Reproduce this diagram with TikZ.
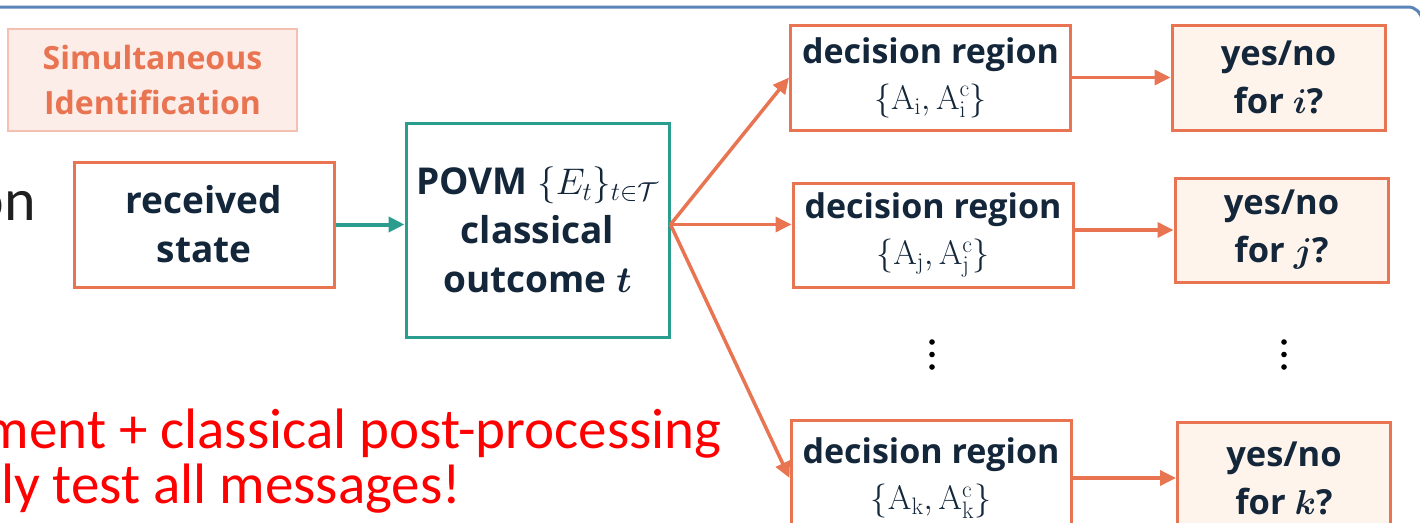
\RequirePackage{fix-cm}
\documentclass[tikz,border=0pt]{standalone}
\usepackage[no-math]{fontspec}
\usepackage{bm}
\newfontfamily\boxfont{Open Sans}
\newfontfamily\notefont{Carlito}
\usetikzlibrary{arrows.meta}
\definecolor{coral}{RGB}{233,116,82}
\definecolor{teal}{RGB}{42,157,143}
\definecolor{ink}{RGB}{19,38,58}
\definecolor{cream}{RGB}{254,244,236}
\definecolor{blush}{RGB}{253,237,232}
\definecolor{frameblue}{RGB}{91,132,185}
\tikzset{
  >={Triangle[length=16pt,width=15pt]},
  box/.style={draw=#1,line width=3pt,fill=white,inner sep=0pt,align=center,text=ink,
    font=\boxfont\bfseries\fontsize{37}{49}\selectfont},
  box/.default=coral,
  answer/.style={box,fill=cream,font=\boxfont\bfseries\fontsize{34.5}{48}\selectfont},
  region/.style={box,minimum width=280pt,font=\boxfont\bfseries\fontsize{34}{46}\selectfont},
  tagbox/.style={draw=coral!45,line width=2pt,fill=blush,text=coral,inner sep=0pt,align=center,
    font=\boxfont\bfseries\fontsize{32}{45}\selectfont},
  flow/.style={->,line width=3.5pt,draw=#1},
  flow/.default=coral,
  note/.style={inner sep=0pt,font=\notefont\fontsize{57}{60}\selectfont},
  frame/.style={draw=frameblue,line width=3pt,rounded corners=14pt},
}

\begin{document}
\begin{tikzpicture}[x=1pt,y=-1pt]
  \useasboundingbox (0,0) rectangle (1420,522);
  \draw[frame] (-5,7) -- (1422,7) -- (1422,560);
  % left part
  \node[tagbox,minimum width=289pt,minimum height=102pt] (simid) at (152.5,80) {Simultaneous\\Identification};
  \node[note,text=black!88,anchor=base east,font=\notefont\fontsize{60}{60}\selectfont] (on) at (36,220) {on};
  \node[box,minimum width=260pt,minimum height=125pt] (recv) at (204,224.5) {received\\state};
  \node[box=teal,minimum width=263pt,minimum height=214pt] (povm) at (537.5,230) {POVM $\{E_t\}_{t\in\mathcal{T}}$\\classical\\outcome $\bm{t}$};
  \coordinate (fork) at (recv.east -| povm.east);
  % decision regions
  \node[region,minimum height=105pt] (deci) at (930.5,77.5) {decision region\\$\{\mathrm{A}_\mathrm{i},\mathrm{A}_\mathrm{i}^\mathrm{c}\}$};
  \node[region,minimum height=104pt] (decj) at (933,235) {decision region\\$\{\mathrm{A}_\mathrm{j},\mathrm{A}_\mathrm{j}^\mathrm{c}\}$};
  \node[region,minimum height=116pt] (deck) at (931,478) {decision region\\$\{\mathrm{A}_\mathrm{k},\mathrm{A}_\mathrm{k}^\mathrm{c}\}$};
  % answers
  \node[answer,minimum width=213pt,minimum height=105pt] (yesi) at (1278.5,77.5) {yes/no\\for $\bm{i}$?};
  \node[answer,minimum width=213pt,minimum height=104pt] (yesj) at (1281.5,230) {yes/no\\for $\bm{j}$?};
  \node[answer,minimum width=213pt,minimum height=112pt] (yesk) at (1284,478) {yes/no\\for $\bm{k}$?};
  \foreach \x in {932,1284} \foreach \y in {342,354.5,367} \fill (\x,\y) circle (2.8pt);
  % arrows
  \draw[flow=teal,line width=4pt] (recv.east) -- (recv.east -| povm.west);
  \draw[flow] (fork) -- (deci.west);
  \draw[flow] (fork) -- (fork -| decj.west);
  \draw[flow] (fork) -- (deck.west);
  \draw[flow] (deci.east) -- (yesi.west);
  \draw[flow] (yesj.west -| decj.east) -- (yesj.west);
  \draw[flow] (deck.east) -- (yesk.west);
  % red remark
  \node[note,text=red,anchor=base east] (post) at (722,448) {ment + classical post-processing};
  \node[note,text=red,anchor=base west] (msgs) at (1,503) {ly test all messages!};
\end{tikzpicture}
\end{document}
